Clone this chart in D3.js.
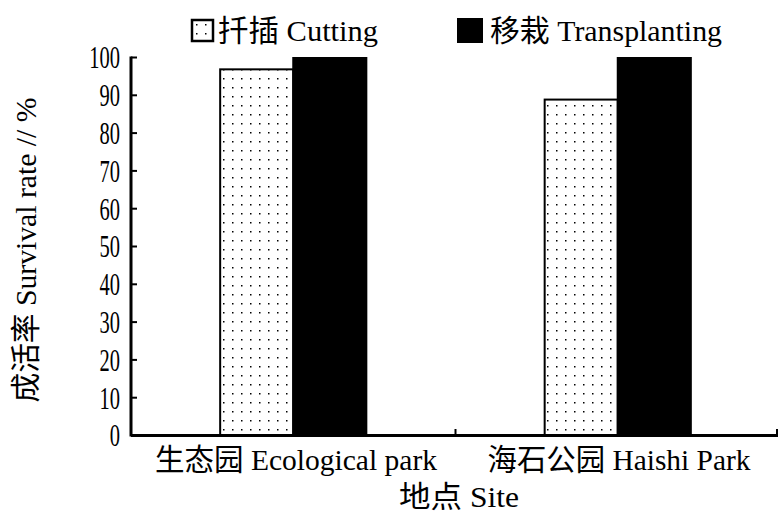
<!DOCTYPE html>
<html><head><meta charset="utf-8">
<script src="https://cdn.jsdelivr.net/npm/d3@7"></script>
<style>body{margin:0;background:#fff}svg{display:block}text{font-family:"Liberation Serif","Noto Sans CJK SC",serif;fill:#000}</style>
</head><body>
<svg id="c" width="778" height="515"></svg>
<script>
const categories = ["生态园 Ecological park", "海石公园 Haishi Park"];
const seriesNames = ["扦插 Cutting", "移栽 Transplanting"];
const cutting = [97, 89];
const transplanting = [100, 100];
const yTicks = [0,10,20,30,40,50,60,70,80,90,100];

const svg = d3.select("#c");
const mL = 131, mR = 780, mT = 57, mB = 435;
const x = d3.scaleBand().domain(categories).range([mL, mR]).paddingInner(0).paddingOuter(0);
const x1 = d3.scaleBand().domain(seriesNames).range([0, x.bandwidth()]).paddingOuter(1.22).paddingInner(0);
const y = d3.scaleLinear().domain([0,100]).range([mB, mT]);

const defs = svg.append("defs");
const pat = defs.append("pattern").attr("id","dots").attr("patternUnits","userSpaceOnUse")
  .attr("width",9).attr("height",9).attr("x",3).attr("y",2);
pat.append("rect").attr("width",9).attr("height",9).attr("fill","#fff");
pat.append("rect").attr("x",4).attr("y",4).attr("width",1.5).attr("height",1.5).attr("fill","#000");

function label(sel, tx, ty, txt, len, size, rot) {
  const t = sel.append("text")
    .attr("transform", `translate(${tx},${ty})` + (rot ? ` rotate(${rot})` : ""))
    .attr("text-anchor","middle").style("font-size", size+"px")
    .attr("textLength", len).attr("lengthAdjust","spacingAndGlyphs").text(txt);
  return t;
}

const data = categories.map((c,i)=>({c, vals:[{s:seriesNames[0],v:cutting[i]},{s:seriesNames[1],v:transplanting[i]}]}));
const g = svg.append("g");
data.forEach(d=>{
  d.vals.forEach((e,j)=>{
    g.append("rect")
      .attr("x", x(d.c)+x1(e.s))
      .attr("y", y(e.v)+1)
      .attr("width", x1.bandwidth())
      .attr("height", y(0)-y(e.v)-1)
      .attr("fill", j===0?"url(#dots)":"#000")
      .attr("stroke", "#000").attr("stroke-width", 2);
  });
});

// y axis
const yAxis = svg.append("g").attr("transform",`translate(${mL},0)`)
  .call(d3.axisRight(y).tickValues(yTicks).tickSize(6).tickFormat(d3.format("d")));
yAxis.select(".domain").remove();
yAxis.selectAll("line").attr("stroke","#000").attr("stroke-width",2);
yAxis.selectAll("text").attr("x",0).attr("text-anchor","end").attr("dy","0.34em")
  .attr("transform","translate(-11,0) scale(0.64,1)")
  .style("font-size","32px").style("font-family","Liberation Serif");
svg.append("line").attr("x1",mL).attr("x2",mL).attr("y1",mT-0.5).attr("y2",mB+1.5).attr("stroke","#000").attr("stroke-width",3);

// x axis
svg.append("line").attr("x1",mL).attr("x2",778).attr("y1",mB+0.5).attr("y2",mB+0.5).attr("stroke","#000").attr("stroke-width",3);
[x(categories[1]), 777].forEach(px=>{
  svg.append("line").attr("x1",px).attr("x2",px).attr("y1",mB).attr("y2",mB-6).attr("stroke","#000").attr("stroke-width",2);
});

// category labels
label(svg, 296, 470, categories[0], 282, 30);
label(svg, 619, 470, categories[1], 263, 30);
// x title
label(svg, 459, 507, "地点 Site", 120, 30);
// y title
label(svg, 36, 250, "成活率 Survival rate // %", 305, 30, -90);

// legend
svg.append("rect").attr("x",192).attr("y",20).attr("width",21).attr("height",21).attr("fill","url(#dots)").attr("stroke","#000").attr("stroke-width",2.5);
label(svg, 298, 41, seriesNames[0], 160, 30);
svg.append("rect").attr("x",457).attr("y",18).attr("width",26).attr("height",25).attr("fill","#000");
label(svg, 606, 41, seriesNames[1], 232, 30);
</script>
</body></html>
